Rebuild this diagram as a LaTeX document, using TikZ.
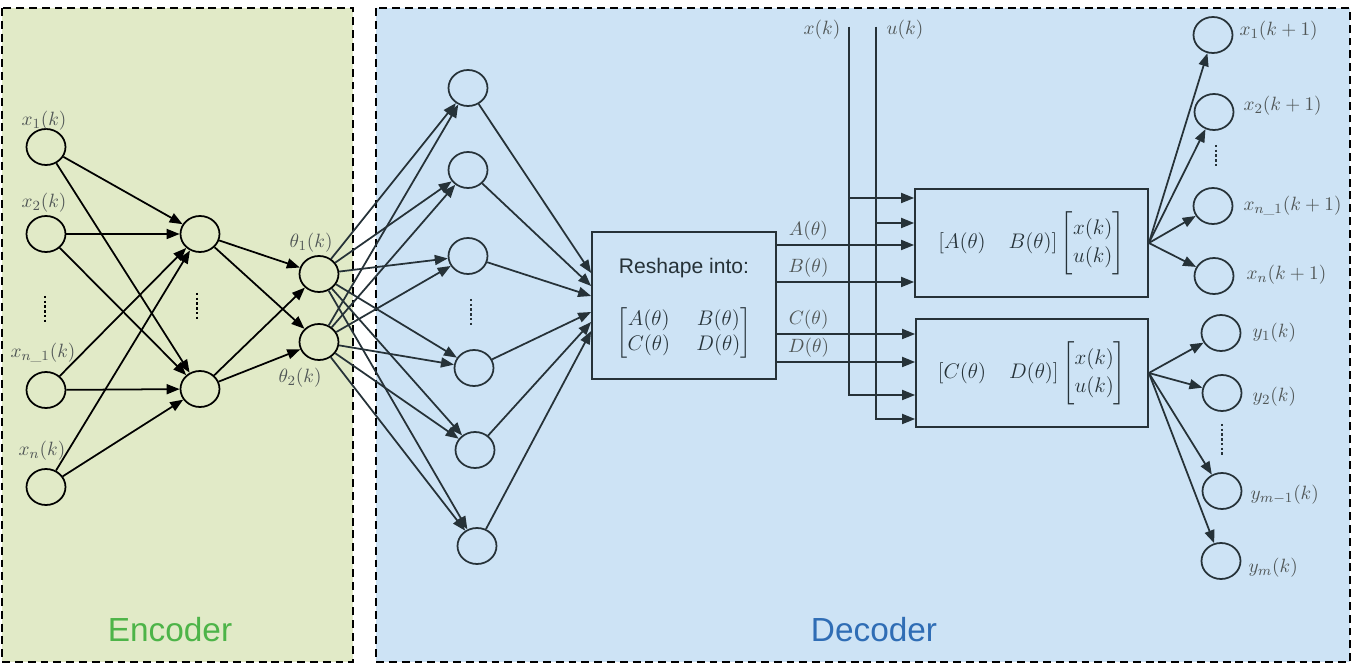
\documentclass[tikz,border=0pt]{standalone}
\usepackage{amsmath}
\usepackage{fontspec}
\setsansfont{Liberation Sans}
\usetikzlibrary{arrows.meta,shapes.geometric}
\definecolor{encfill}{RGB}{225,234,199}
\definecolor{decfill}{RGB}{205,227,245}
\definecolor{enctext}{RGB}{77,180,72}
\definecolor{dectext}{RGB}{47,109,181}
\definecolor{linec}{RGB}{38,50,56}
\definecolor{labc}{RGB}{80,86,86}
\tikzset{
  neuron/.style={ellipse,draw,line width=1pt,minimum width=0.78cm,minimum height=0.72cm,inner sep=0pt},
  lab/.style={text=labc,inner sep=1pt,font=\fontsize{11}{13}\selectfont},
  blockbox/.style={draw=linec,line width=1pt,rectangle,inner sep=0pt},
  region/.style={draw=black,line width=0.8pt,dash pattern=on 4.5pt off 2.8pt},
  vdots/.style={line width=1.6pt,dash pattern=on 1.4pt off 1.3pt}
}
\begin{document}
\begin{tikzpicture}[x=0.02cm,y=-0.02cm,>={Triangle[length=2.6mm,width=2mm]},line width=1pt]
\useasboundingbox (0,0) rectangle (1360,665);
% the two regions
\draw[region,fill=encfill] (2,8) rectangle (353,662);
\draw[region,fill=decfill] (376,8) rectangle (1350,662);
\node[font=\sffamily\fontsize{19}{23}\selectfont,text=enctext] (enc) at (170,630) {Encoder};
\node[font=\sffamily\fontsize{19}{23}\selectfont,text=dectext] (dec) at (874,630) {Decoder};
% encoder
\foreach \n/\y/\lx/\ly/\t in {1/147/44/121/x_1(k),2/234/44/203/x_2(k),3/390/43/353/x_{n\_1}(k),4/487/42/451/x_n(k)}{
  \node[neuron] (in\n) at (46,\y) {};
  \node[lab] (inl\n) at (\lx,\ly) {$\t$};
}
\node[neuron] (h1) at (200,234) {};
\node[neuron] (h2) at (200,389) {};
\node[neuron] (th1) at (319,274) {};
\node[neuron] (th2) at (319,342) {};
\node[lab] (thl1) at (311,243) {$\theta_1(k)$};
\node[lab] (thl2) at (300,378) {$\theta_2(k)$};
\draw[vdots] (45,296) -- (45,324);
\draw[vdots] (197,293) -- (197,321);
\foreach \i in {1,...,4} \foreach \j in {1,2} \draw[->] (in\i) -- (h\j);
\foreach \i in {1,2} \foreach \j in {1,2} \draw[->] (h\i) -- (th\j);
% decoder, first layer
\node[blockbox,minimum width=3.68cm,minimum height=2.94cm] (reshape) at (684,305.5) {};
\node[font=\sffamily\large,text=linec] (rtitle) at (684,268) {Reshape into:};
\node[text=linec,font=\large] (rmat) at (684,333) {$\begin{bmatrix}A(\theta)&\hspace{5pt}B(\theta)\\ C(\theta)&\hspace{5pt}D(\theta)\end{bmatrix}$};
\foreach \n/\x/\y/\e in {1/468/88/273,2/468/170/286,3/468/256/296,4/474/368/312,5/475/450/322,6/477/546/331}{
  \node[neuron,draw=linec] (d\n) at (\x,\y) {};
  \draw[->,linec] (d\n) -- (reshape.west |- 0,\e);
}
\draw[vdots,linec] (471,299) -- (471,326);
\foreach \i in {1,2} \foreach \j in {1,...,6} \draw[->,linec] (th\i) -- (d\j);
% state and output blocks
\node[blockbox,minimum width=4.66cm,minimum height=2.16cm,text=linec,font=\fontsize{13}{16}\selectfont] (topbox) at (1031.5,243)
  {$[A(\theta)\quad B(\theta)]\begin{bmatrix}x(k)\\u(k)\end{bmatrix}$};
\node[blockbox,minimum width=4.64cm,minimum height=2.16cm,text=linec,font=\fontsize{13}{16}\selectfont] (botbox) at (1032,373)
  {$[C(\theta)\quad D(\theta)]\begin{bmatrix}x(k)\\u(k)\end{bmatrix}$};
\foreach \y/\b/\t in {245/topbox/A,282/topbox/B,334/botbox/C,362/botbox/D}
  \draw[->,linec] (reshape.east |- 0,\y) -- (\b.west |- 0,\y) node[lab,pos=0.23,above=1pt] {$\t(\theta)$};
\node[lab] (xk) at (822,30) {$x(k)$};
\node[lab] (uk) at (905,30) {$u(k)$};
\coordinate (xtop) at (849,27);
\coordinate (utop) at (876,27);
\draw[->,linec] (xtop) |- (topbox.west |- 0,198);
\draw[->,linec] (xtop) |- (botbox.west |- 0,395);
\draw[->,linec] (utop) |- (topbox.west |- 0,223);
\draw[->,linec] (utop) |- (botbox.west |- 0,419);
% outputs
\foreach \n/\x/\y/\lx/\ly/\t in {1/1213/35/1237/31/x_1(k+1),2/1214/112/1241/106/x_2(k+1),3/1213/206/1241/206/x_{n\_1}(k+1),4/1214/276/1244/275/x_n(k+1)}{
  \node[neuron,draw=linec] (o\n) at (\x,\y) {};
  \node[lab,anchor=west] (ol\n) at (\lx,\ly) {$\t$};
  \draw[->,linec] (topbox.east) -- (o\n);
}
\foreach \n/\x/\y/\lx/\ly/\t in {1/1221/333/1250/333/y_1(k),2/1222/393/1250/397/y_2(k),3/1222/491/1248/495/y_{m-1}(k),4/1221/561/1246/568/y_m(k)}{
  \node[neuron,draw=linec] (p\n) at (\x,\y) {};
  \node[lab,anchor=west] (pl\n) at (\lx,\ly) {$\t$};
  \draw[->,linec] (botbox.east) -- (p\n);
}
\draw[vdots,linec] (1216,145) -- (1216,168);
\draw[vdots,linec] (1222,424) -- (1222,457);
\end{tikzpicture}
\end{document}
